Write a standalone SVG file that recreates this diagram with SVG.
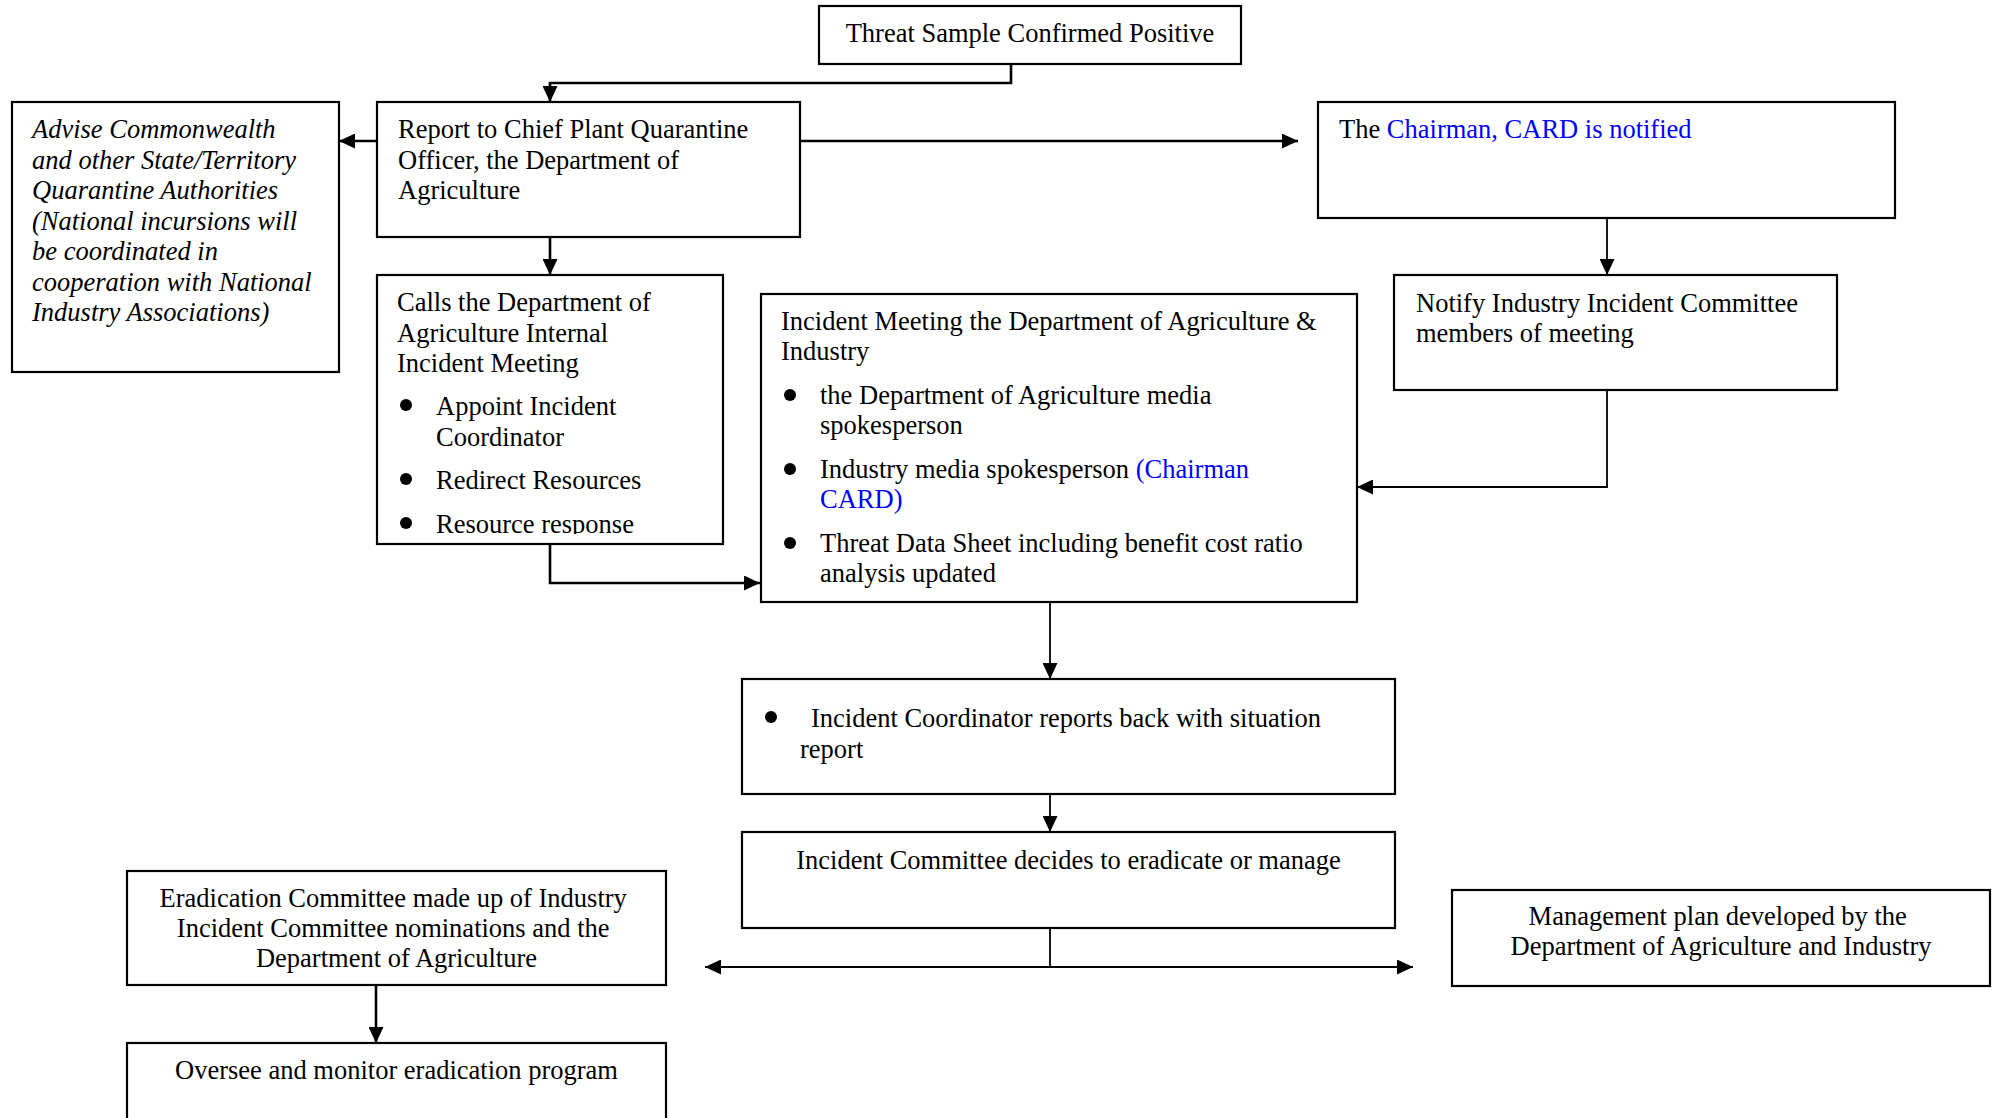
<svg xmlns="http://www.w3.org/2000/svg" width="1997" height="1118" viewBox="0 0 1997 1118">
<style>
.box{fill:#fff;stroke:#000;stroke-width:2.2}
.t{font-family:"Liberation Serif","Times New Roman",serif;font-size:26.5px;fill:#000}
.i{font-style:italic}
.c{text-anchor:middle}
.blue{fill:#0000ff}
.thick{fill:none;stroke:#000;stroke-width:2.6}
.thin{fill:none;stroke:#000;stroke-width:1.8}
.dot{fill:#000}
</style>
<defs>
<marker id="ah" viewBox="0 0 16 15" refX="16" refY="7.5" markerWidth="16" markerHeight="15" markerUnits="userSpaceOnUse" orient="auto-start-reverse">
<path d="M0,0 L16,7.5 L0,15 Z" fill="#000"/>
</marker>
<clipPath id="clipCalls"><rect x="377" y="275" width="346" height="259"/></clipPath>
</defs>
<rect width="1997" height="1118" fill="#fff"/>

<g id="connectors">
<path class="thick" d="M1011,64 V83 H550 V102" marker-end="url(#ah)"/>
<path class="thick" d="M377,141 H339" marker-end="url(#ah)"/>
<path class="thick" d="M800,141 H1298" marker-end="url(#ah)"/>
<path class="thick" d="M550,237 V275" marker-end="url(#ah)"/>
<path class="thin" d="M1607,218 V275" marker-end="url(#ah)"/>
<path class="thick" d="M550,544 V583 H760" marker-end="url(#ah)"/>
<path class="thin" d="M1607,390 V487 H1357" marker-end="url(#ah)"/>
<path class="thin" d="M1050,602 V679" marker-end="url(#ah)"/>
<path class="thin" d="M1050,794 V832" marker-end="url(#ah)"/>
<path class="thin" d="M1050,928 V967"/>
<path class="thin" d="M705,967 H1413" marker-start="url(#ah)" marker-end="url(#ah)"/>
<path class="thick" d="M376,985 V1043" marker-end="url(#ah)"/>
</g>

<g id="threat">
<rect class="box" x="819" y="6" width="422" height="58"/>
<text class="t c" x="1030" y="42">Threat Sample Confirmed Positive</text>
</g>

<g id="advise">
<rect class="box" x="12" y="102" width="327" height="270"/>
<text class="t i" x="32">
<tspan x="32" y="138">Advise Commonwealth</tspan>
<tspan x="32" y="168.5">and other State/Territory</tspan>
<tspan x="32" y="199">Quarantine Authorities</tspan>
<tspan x="32" y="229.5">(National incursions will</tspan>
<tspan x="32" y="260">be coordinated in</tspan>
<tspan x="32" y="290.5">cooperation with National</tspan>
<tspan x="32" y="321">Industry Associations)</tspan>
</text>
</g>

<g id="report">
<rect class="box" x="377" y="102" width="423" height="135"/>
<text class="t">
<tspan x="398" y="138">Report to Chief Plant Quarantine</tspan>
<tspan x="398" y="168.5">Officer, the Department of</tspan>
<tspan x="398" y="199">Agriculture</tspan>
</text>
</g>

<g id="chairman">
<rect class="box" x="1318" y="102" width="577" height="116"/>
<text class="t" x="1339" y="138">The <tspan class="blue">Chairman, CARD is notified</tspan></text>
</g>

<g id="calls">
<rect class="box" x="377" y="275" width="346" height="269"/>
<g clip-path="url(#clipCalls)">
<text class="t">
<tspan x="397" y="311">Calls the Department of</tspan>
<tspan x="397" y="341.5">Agriculture Internal</tspan>
<tspan x="397" y="372">Incident Meeting</tspan>
<tspan x="436" y="415">Appoint Incident</tspan>
<tspan x="436" y="445.5">Coordinator</tspan>
<tspan x="436" y="489">Redirect Resources</tspan>
<tspan x="436" y="533">Resource response</tspan>
</text>
<circle class="dot" cx="406" cy="405" r="6"/>
<circle class="dot" cx="406" cy="479" r="6"/>
<circle class="dot" cx="406" cy="523" r="6"/>
</g>
</g>

<g id="meeting">
<rect class="box" x="761" y="294" width="596" height="308"/>
<text class="t">
<tspan x="781" y="330">Incident Meeting the Department of Agriculture &amp;</tspan>
<tspan x="781" y="360">Industry</tspan>
<tspan x="820" y="404">the Department of Agriculture media</tspan>
<tspan x="820" y="434">spokesperson</tspan>
<tspan x="820" y="478">Industry media spokesperson <tspan class="blue">(Chairman</tspan></tspan>
<tspan class="blue" x="820" y="508">CARD)</tspan>
<tspan x="820" y="552">Threat Data Sheet including benefit cost ratio</tspan>
<tspan x="820" y="582">analysis updated</tspan>
</text>
<circle class="dot" cx="790" cy="395" r="6"/>
<circle class="dot" cx="790" cy="469" r="6"/>
<circle class="dot" cx="790" cy="543" r="6"/>
</g>

<g id="notify">
<rect class="box" x="1394" y="275" width="443" height="115"/>
<text class="t">
<tspan x="1416" y="312">Notify Industry Incident Committee</tspan>
<tspan x="1416" y="342">members of meeting</tspan>
</text>
</g>

<g id="coordinator">
<rect class="box" x="742" y="679" width="653" height="115"/>
<circle class="dot" cx="771" cy="717" r="6"/>
<text class="t">
<tspan x="811" y="727">Incident Coordinator reports back with situation</tspan>
<tspan x="800" y="758">report</tspan>
</text>
</g>

<g id="decides">
<rect class="box" x="742" y="832" width="653" height="96"/>
<text class="t c" x="1068.5" y="869">Incident Committee decides to eradicate or manage</text>
</g>

<g id="eradication">
<rect class="box" x="127" y="871" width="539" height="114"/>
<text class="t c">
<tspan x="396.5" y="907">Eradication Committee made up of Industry</tspan>
<tspan x="396.5" y="937">Incident Committee nominations and the</tspan>
<tspan x="396.5" y="967">Department of Agriculture</tspan>
</text>
</g>

<g id="oversee">
<rect class="box" x="127" y="1043" width="539" height="100"/>
<text class="t c" x="396.5" y="1079">Oversee and monitor eradication program</text>
</g>

<g id="management">
<rect class="box" x="1452" y="890" width="538" height="96"/>
<text class="t c">
<tspan x="1721" y="925">Management plan developed by the</tspan>
<tspan x="1721" y="955">Department of Agriculture and Industry</tspan>
</text>
</g>
</svg>
